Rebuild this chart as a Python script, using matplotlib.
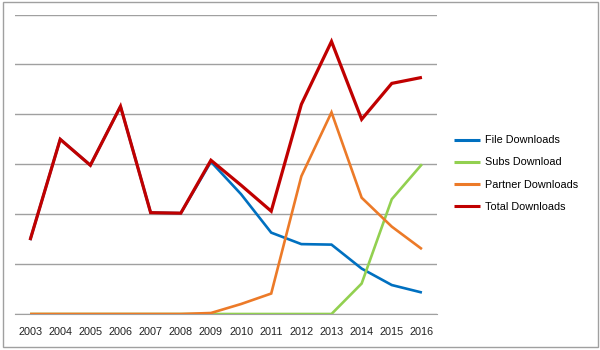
import matplotlib
matplotlib.use("Agg")
import matplotlib.pyplot as plt
from matplotlib.patches import Rectangle

years = ["2003", "2004", "2005", "2006", "2007", "2008", "2009",
         "2010", "2011", "2012", "2013", "2014", "2015", "2016"]
file_dl = [1.48, 3.50, 2.98, 4.16, 2.03, 2.02, 3.05, 2.40, 1.63, 1.40, 1.39, 0.91, 0.58, 0.43]
subs_dl = [0, 0, 0, 0, 0, 0, 0, 0, 0, 0, 0, 0.61, 2.30, 3.00]
partner_dl = [0, 0, 0, 0, 0, 0, 0.02, 0.20, 0.41, 2.76, 4.04, 2.33, 1.75, 1.30]
total_dl = [1.48, 3.50, 2.98, 4.16, 2.03, 2.02, 3.08, 2.58, 2.06, 4.20, 5.46, 3.90, 4.62, 4.74]

series = [
    ("File Downloads", file_dl, "#0070C0", 1.9),
    ("Subs Download", subs_dl, "#92D050", 1.9),
    ("Partner Downloads", partner_dl, "#EC7A28", 1.9),
    ("Total Downloads", total_dl, "#C00000", 2.3),
]

plt.rcParams['font.family'] = ['Liberation Sans', 'DejaVu Sans']

fig = plt.figure(figsize=(6, 3.5), dpi=100)
ax = fig.add_axes([15 / 600, 1 - 314 / 350, (437 - 15) / 600, (314 - 14.5) / 350])

x = list(range(len(years)))
for name, vals, col, lw in series:
    ax.plot(x, vals, color=col, lw=lw, label=name, solid_joinstyle='miter',
            solid_capstyle='butt', zorder=3)

ax.set_xlim(-0.5, len(years) - 0.5)
ax.set_ylim(0, 6)
ax.set_yticks([0, 1, 2, 3, 4, 5, 6])
ax.set_yticklabels([])
ax.set_xticks(x)
ax.set_xticklabels(years, fontsize=7.8, color="#222222")
ax.tick_params(axis='both', length=0, pad=9.2)
ax.grid(axis='y', color="#A0A0A0", lw=1.0)
for s in ["top", "right", "left"]:
    ax.spines[s].set_visible(False)
ax.spines["bottom"].set_color("#A0A0A0")
ax.set_axisbelow(True)

leg = fig.legend(loc="upper left", bbox_to_anchor=(450 / 600, 1 - 131 / 350),
                 frameon=False, fontsize=7.8, handlelength=2.4, handletextpad=0.45,
                 labelspacing=1.12, borderaxespad=0)
for h in leg.get_lines():
    h.set_linewidth(2.2)

fig.patches.append(Rectangle((2.5 / 600, 3.5 / 350), 595 / 600, 345 / 350,
                             transform=fig.transFigure, fill=False,
                             edgecolor="#A0A0A0", lw=1.0))

fig.savefig("out.png", dpi=100)
